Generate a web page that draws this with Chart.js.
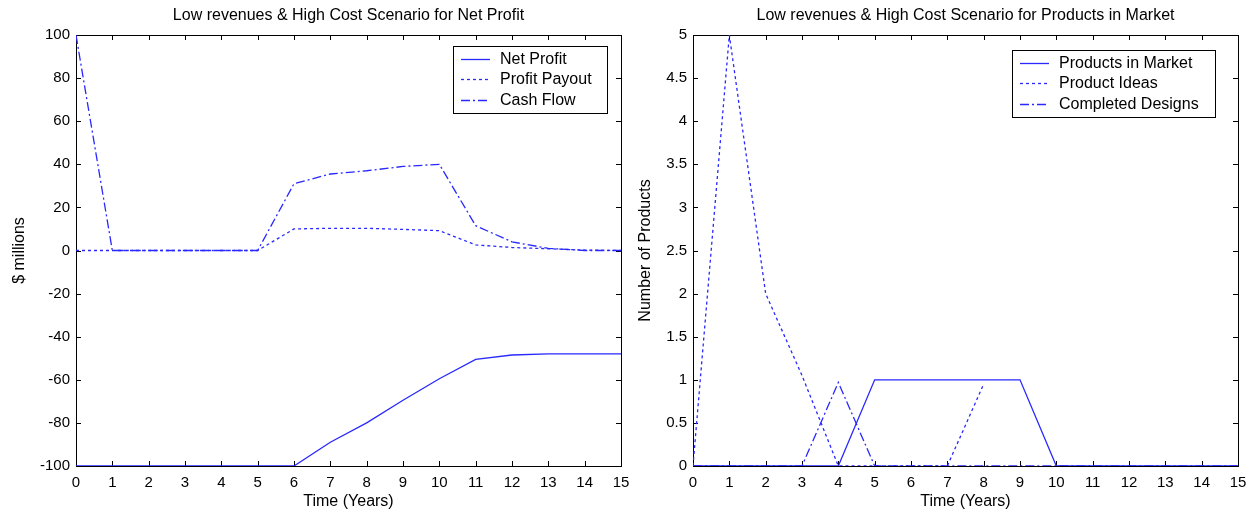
<!DOCTYPE html>
<html>
<head>
<meta charset="utf-8">
<title>Low revenues & High Cost Scenario</title>
<script src="https://cdn.jsdelivr.net/npm/chart.js@4.4.1/dist/chart.umd.min.js"></script>
<style>
  html, body { margin: 0; padding: 0; background: #fff; }
  #wrap { position: relative; width: 1253px; height: 515px; }
  .panel { position: absolute; top: 0; height: 515px; }
</style>
</head>
<body>
<div id="wrap">
  <div class="panel" style="left:0;width:640px"><canvas id="profitChart" width="640" height="515"></canvas></div>
  <div class="panel" style="left:626px;width:627px"><canvas id="productsChart" width="627" height="515"></canvas></div>
</div>
<script>
// time axis, one point per year
const years = [0, 1, 2, 3, 4, 5, 6, 7, 8, 9, 10, 11, 12, 13, 14, 15];

// left panel ($ millions)
const netProfit    = [-100, -100, -100, -100, -100, -100, -100, -89, -80, -69.5, -59.5, -50.5, -48.5, -48, -48, -48];
const profitPayout = [0, 0, 0, 0, 0, 0, 10, 10.3, 10.3, 9.8, 9.2, 2.6, 1.4, 0.8, 0.2, 0];
const cashFlow     = [100, 0, 0, 0, 0, 0, 31, 35.5, 37, 39, 40, 11.5, 4, 1, 0, 0];

// right panel (number of products)
const inMarket        = [0, 0, 0, 0, 0, 1, 1, 1, 1, 1, 0, 0, 0, 0, 0, 0];
const productIdeas    = [0, 5, 2, 1.05, 0, 0, 0, 0, 0.95, null, null, null, null, null, null, null];
const completedDesign = [0, 0, 0, 0, 0.97, 0, 0, 0, 0, 0, 0, 0, 0, 0, 0, 0];

const profitTicks = [-100, 100, 20];   // min, max, step
const productTicks = [0, 5, 0.5];

const BLUE = 'rgb(40,40,255)';
const SOLID = [];
const DOTTED = [3, 3];
const DASHDOT = [9, 3, 2, 3];

Chart.defaults.font.family = "'Liberation Sans', Arial, sans-serif";
Chart.defaults.font.size = 15;
Chart.defaults.color = '#000';

function toPoints(values) {
  return years.map((t, i) => ({ x: t, y: values[i] }));
}

function line(label, values, dash) {
  return {
    label: label,
    data: toPoints(values),
    borderColor: BLUE,
    borderWidth: 1.3,
    borderDash: dash,
    pointRadius: 0,
    tension: 0,
    fill: false,
    spanGaps: false
  };
}

// matlab style frame: box all round, ticks pointing inwards
const frame = {
  id: 'frame',
  beforeDatasetsDraw(chart) {
    const { ctx, chartArea: a, scales } = chart;
    ctx.save();
    ctx.strokeStyle = '#000';
    ctx.lineWidth = 1;
    ctx.strokeRect(Math.round(a.left) + 0.5, Math.round(a.top) + 0.5,
      Math.round(a.right - a.left), Math.round(a.bottom - a.top));
    ctx.beginPath();
    scales.x.ticks.forEach(t => {
      const px = Math.round(scales.x.getPixelForValue(t.value)) + 0.5;
      ctx.moveTo(px, a.bottom); ctx.lineTo(px, a.bottom - 5);
      ctx.moveTo(px, a.top); ctx.lineTo(px, a.top + 5);
    });
    scales.y.ticks.forEach(t => {
      const py = Math.round(scales.y.getPixelForValue(t.value)) + 0.5;
      ctx.moveTo(a.left, py); ctx.lineTo(a.left + 5, py);
      ctx.moveTo(a.right, py); ctx.lineTo(a.right - 5, py);
    });
    ctx.stroke();
    ctx.restore();
  },
  // legend box inside the axes
  afterDraw(chart, args, opts) {
    const { ctx } = chart;
    const b = opts.box;
    ctx.save();
    ctx.fillStyle = '#fff';
    ctx.fillRect(b.x, b.y, b.w, b.h);
    ctx.strokeStyle = '#000';
    ctx.lineWidth = 1;
    ctx.strokeRect(b.x + 0.5, b.y + 0.5, b.w, b.h);
    ctx.font = "16px 'Liberation Sans', Arial, sans-serif";
    ctx.textBaseline = 'middle';
    ctx.fillStyle = '#000';
    chart.data.datasets.forEach((ds, i) => {
      const y = b.y + 12.5 + i * 20.5;
      ctx.beginPath();
      ctx.strokeStyle = ds.borderColor;
      ctx.lineWidth = ds.borderWidth;
      ctx.setLineDash(ds.borderDash);
      ctx.moveTo(b.x + 8, Math.round(y) + 0.5);
      ctx.lineTo(b.x + 37, Math.round(y) + 0.5);
      ctx.stroke();
      ctx.setLineDash([]);
      ctx.fillText(ds.label, b.x + 47, y + 1);
    });
    ctx.restore();
  }
};

function makeChart(id, title, yTitle, datasets, yRange, yWidth, padRight, box) {
  return new Chart(document.getElementById(id), {
    type: 'line',
    data: { datasets: datasets },
    options: {
      responsive: false,
      animation: false,
      events: [],
      layout: { padding: { left: 0, right: padRight, top: 0, bottom: 0 } },
      plugins: {
        legend: { display: false },
        tooltip: { enabled: false },
        title: {
          display: true,
          fullSize: false,
          text: title,
          font: { size: 16, weight: 'normal' },
          color: '#000',
          padding: { top: 6, bottom: 9.8 }
        },
        frame: { box: box }
      },
      scales: {
        x: {
          type: 'linear',
          min: 0, max: 15,
          grid: { display: false, drawTicks: false },
          border: { display: false },
          ticks: { stepSize: 1, autoSkip: false, maxRotation: 0, padding: 8 },
          title: { display: true, text: 'Time (Years)', font: { size: 16 }, padding: { top: 0, bottom: 4 } },
          afterFit(s) { s.height = 49; s.paddingLeft = 0; s.paddingRight = 0; }
        },
        y: {
          min: yRange[0], max: yRange[1],
          grid: { display: false, drawTicks: false },
          border: { display: false },
          ticks: {
            stepSize: yRange[2], autoSkip: false, padding: 6,
            callback: v => String(Math.round(v * 10) / 10)
          },
          title: { display: true, text: yTitle, font: { size: 16 }, padding: { top: 10, bottom: 0 } },
          afterFit(s) { s.width = yWidth; s.paddingTop = 0; s.paddingBottom = 0; }
        }
      }
    },
    plugins: [frame]
  });
}

makeChart('profitChart',
  'Low revenues & High Cost Scenario for Net Profit',
  '$ millions',
  [
    line('Net Profit', netProfit, SOLID),
    line('Profit Payout', profitPayout, DOTTED),
    line('Cash Flow', cashFlow, DASHDOT)
  ],
  profitTicks, 76, 19,
  { x: 453, y: 46, w: 154, h: 67 });

makeChart('productsChart',
  'Low revenues & High Cost Scenario for Products in Market',
  'Number of Products',
  [
    line('Products in Market', inMarket, SOLID),
    line('Product Ideas', productIdeas, DOTTED),
    line('Completed Designs', completedDesign, DASHDOT)
  ],
  productTicks, 67, 15,
  { x: 386, y: 50, w: 203, h: 67 });
</script>
</body>
</html>
